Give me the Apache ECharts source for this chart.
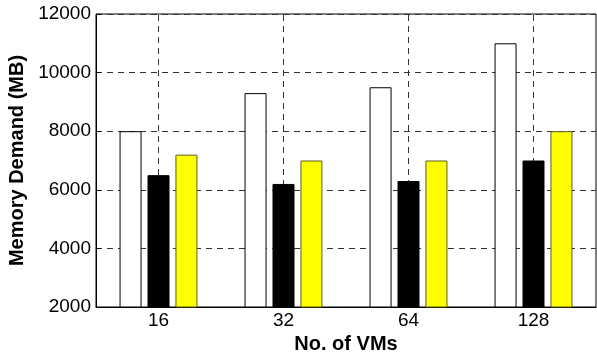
<!DOCTYPE html>
<html>
<head>
<meta charset="utf-8">
<script src="https://cdn.jsdelivr.net/npm/echarts@6/dist/echarts.min.js"></script>
<style>html,body{margin:0;padding:0;background:#fff}#c{width:597px;height:354px}</style>
</head>
<body>
<div id="c"></div>
<script>
const categories = ['16', '32', '64', '128'];
const seriesWhite = [8000, 9300, 9500, 11000];
const seriesBlack = [6500, 6200, 6300, 7000];
const seriesYellow = [7200, 7000, 7000, 8000];
const yTicks = [2000, 4000, 6000, 8000, 10000, 12000];

const font = '"Liberation Sans", Arial, sans-serif';
const dash = { color: '#333', width: 1, type: [6, 5] };
const chart = echarts.init(document.getElementById('c'), null, { renderer: 'canvas' });
chart.setOption({
  animation: false,
  backgroundColor: '#fff',
  grid: { left: 96, top: 14, right: 1, bottom: 47, containLabel: false, outerBoundsMode: 'none', show: true, borderColor: '#000', borderWidth: 1, backgroundColor: 'transparent' },
  xAxis: {
    type: 'category',
    data: categories,
    name: 'No. of VMs',
    nameLocation: 'middle',
    nameGap: 24,
    nameTextStyle: { fontFamily: font, fontSize: 20, fontWeight: 'bold', color: '#000' },
    axisLine: { lineStyle: { color: '#000', width: 1 } },
    axisTick: { show: false },
    axisLabel: { margin: 4, fontFamily: font, fontSize: 19, color: '#000' },
    splitLine: { show: false }
  },
  yAxis: {
    type: 'value',
    min: yTicks[0],
    max: yTicks[yTicks.length - 1],
    interval: 2000,
    name: 'Memory Demand (MB)',
    nameLocation: 'middle',
    nameGap: 54,
    nameTextStyle: { fontFamily: font, fontSize: 20, fontWeight: 'bold', color: '#000' },
    axisLine: { show: true, lineStyle: { color: '#000', width: 1 } },
    axisTick: { show: true, inside: true, length: 5, lineStyle: { color: '#000' } },
    axisLabel: { margin: 5, fontFamily: font, fontSize: 19, color: '#000', formatter: v => String(v) },
    splitLine: { show: true, lineStyle: dash }
  },
  series: [
    {
      type: 'line', data: [], z: 0, silent: true,
      markLine: {
        silent: true, symbol: 'none', label: { show: false },
        lineStyle: dash, z: 0,
        data: categories.map(c => ({ xAxis: c }))
      }
    },
    {
      type: 'bar', data: seriesWhite, barWidth: 22, barGap: '27%', z: 2,
      itemStyle: { color: '#fff', borderColor: '#000', borderWidth: 1 }
    },
    {
      type: 'bar', data: seriesBlack, barWidth: 22, barGap: '27%', z: 2,
      itemStyle: { color: '#000', borderColor: '#000', borderWidth: 1 }
    },
    {
      type: 'bar', data: seriesYellow, barWidth: 22, barGap: '27%', z: 2,
      itemStyle: { color: '#ffff00', borderColor: '#5c5c20', borderWidth: 1 }
    }
  ]
});
</script>
</body>
</html>
